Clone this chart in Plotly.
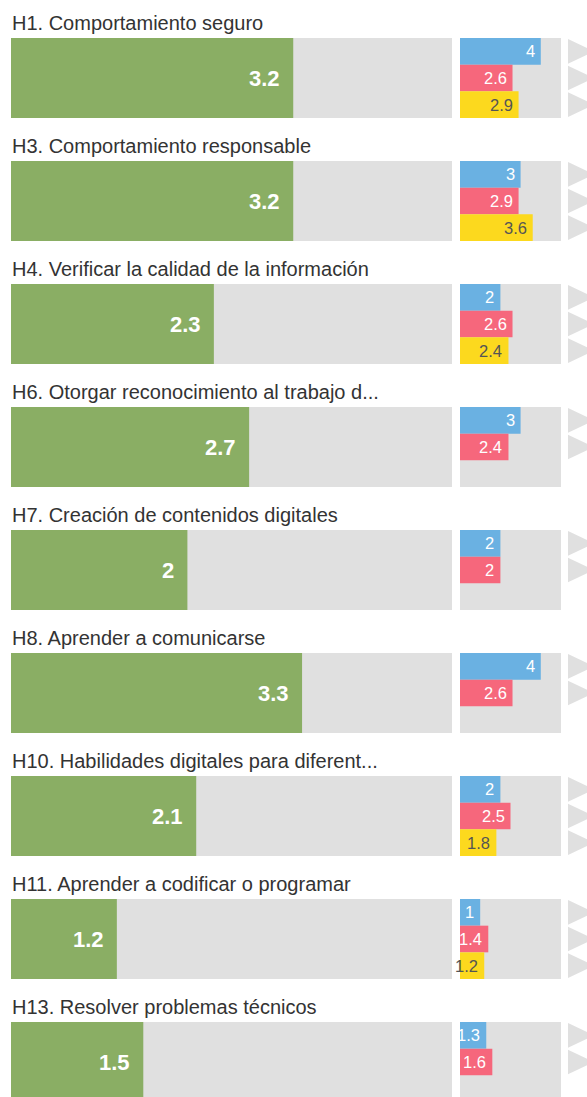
import plotly.graph_objects as go

titles = [
    "H1. Comportamiento seguro",
    "H3. Comportamiento responsable",
    "H4. Verificar la calidad de la información",
    "H6. Otorgar reconocimiento al trabajo d...",
    "H7. Creación de contenidos digitales",
    "H8. Aprender a comunicarse",
    "H10. Habilidades digitales para diferent...",
    "H11. Aprender a codificar o programar",
    "H13. Resolver problemas técnicos",
]
overall = [3.2, 3.2, 2.3, 2.7, 2, 3.3, 2.1, 1.2, 1.5]
blue_vals = [4, 3, 2, 3, 2, 4, 2, 1, 1.3]
red_vals = [2.6, 2.9, 2.6, 2.4, 2, 2.6, 2.5, 1.4, 1.6]
yellow_vals = [2.9, 3.6, 2.4, None, None, None, 1.8, 1.2, None]
scale_max = 5

W, H = 587, 1097
STEP = 123
TOP0 = 38
BAR_H = 80
ROW_H = BAR_H / 3

GREY = "#e0e0e0"
GREEN = "#8aae64"
BLUE = "#6ab1e2"
RED = "#f6677c"
YELLOW = "#fcd91e"
FONT = "Liberation Sans, Arial, sans-serif"

n = len(titles)
tops = [TOP0 + i * STEP for i in range(n)]
centers = [t + BAR_H / 2 for t in tops]

fig = go.Figure()
common = dict(orientation="h", hoverinfo="skip", marker_line_width=0)

fig.add_bar(x=[scale_max] * n, y=centers, width=BAR_H, marker_color=GREY,
            xaxis="x", yaxis="y", **common)
fig.add_bar(x=overall, y=centers, width=BAR_H, marker_color=GREEN,
            xaxis="x", yaxis="y", **common)
fig.add_bar(x=[scale_max] * n, y=centers, width=BAR_H, marker_color=GREY,
            xaxis="x2", yaxis="y", **common)

series = [(blue_vals, BLUE, "white"), (red_vals, RED, "white"), (yellow_vals, YELLOW, "#555555")]
annotations = []
shapes = []
for k, (vals, color, tcolor) in enumerate(series):
    ys = [t + ROW_H * (k + 0.5) for t in tops]
    fig.add_bar(x=vals, y=ys, width=ROW_H, marker_color=color,
                xaxis="x2", yaxis="y", **common)
    for v, yc in zip(vals, ys):
        if v is None:
            continue
        annotations.append(dict(
            x=v, xref="x2", y=yc, yref="y", xanchor="right", yanchor="middle",
            xshift=-4, text=f"{v:g}", showarrow=False,
            font=dict(family=FONT, size=16.5, color=tcolor)))
        # grey indicator triangle
        y0 = yc - ROW_H / 2 + 1
        y1 = yc + ROW_H / 2 - 1
        x0 = 568 / W
        x1 = 594 / W
        shapes.append(dict(
            type="path", xref="paper", yref="y",
            path=f"M {x0},{y0} L {x0},{y1} L {x1},{yc} Z",
            fillcolor=GREY, line_width=0))

for i in range(n):
    annotations.append(dict(
        x=11 / W, xref="paper", y=tops[i] - 15, yref="y", xanchor="left",
        yanchor="middle", xshift=-1, text=titles[i], showarrow=False,
        font=dict(family=FONT, size=20, color="#333333")))
    annotations.append(dict(
        x=overall[i], xref="x", y=centers[i], yref="y", xanchor="right",
        yanchor="middle", xshift=-11, text=f"<b>{overall[i]:g}</b>",
        showarrow=False, font=dict(family=FONT, size=22, color="white")))

fig.update_layout(
    width=W, height=H,
    margin=dict(l=0, r=0, t=0, b=0),
    paper_bgcolor="white", plot_bgcolor="white",
    barmode="overlay", showlegend=False,
    xaxis=dict(domain=[11 / W, 452 / W], range=[0, scale_max], visible=False, fixedrange=True),
    xaxis2=dict(domain=[460 / W, 561 / W], range=[0, scale_max], visible=False,
                anchor="y", fixedrange=True),
    yaxis=dict(range=[H, 0], visible=False, fixedrange=True),
    annotations=annotations,
    shapes=shapes,
)

fig.write_html(
    "out.html",
    config={"displayModeBar": False},
    post_script="document.body.style.margin='0';document.body.style.overflow='hidden';",
)
